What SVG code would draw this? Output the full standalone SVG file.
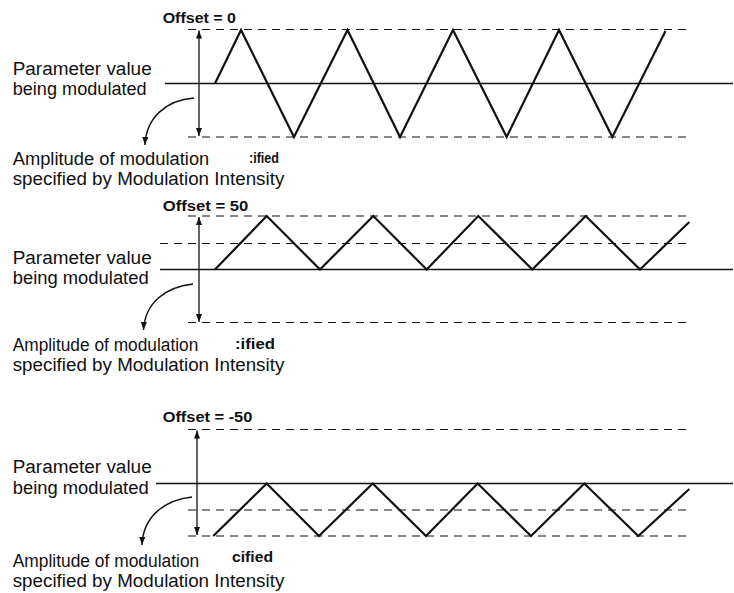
<svg xmlns="http://www.w3.org/2000/svg" width="734" height="593" viewBox="0 0 734 593">
<style>
.bg{fill:#fff}
.lbl{font-family:"Liberation Sans",Arial,sans-serif;font-size:18px;fill:#111}
.off{font-family:"Liberation Sans",Arial,sans-serif;font-size:14px;font-weight:bold;fill:#111}
.dash{stroke:#111;stroke-width:1.2;stroke-dasharray:8,6;fill:none}
.base{stroke:#111;stroke-width:1.3;fill:none}
.wave{stroke:#111;stroke-width:2.2;fill:none;stroke-linejoin:miter}
.amp{stroke:#111;stroke-width:1.3;fill:none;marker-start:url(#ah);marker-end:url(#ah)}
.cur{stroke:#111;stroke-width:1.4;fill:none;marker-end:url(#ah)}
</style>
<defs>
<marker id="ah" markerUnits="userSpaceOnUse" markerWidth="9" markerHeight="7" refX="8" refY="3" orient="auto-start-reverse">
<path d="M0,0 L8,3 L0,6 z" fill="#111"/>
</marker>
</defs>
<rect class="bg" x="0" y="0" width="734" height="593"/>

<g id="panel1">
<text class="off" x="162.7" y="22.7" textLength="73.3" lengthAdjust="spacingAndGlyphs">Offset = 0</text>
<line class="dash" x1="188" y1="29.5" x2="690" y2="29.5"/>
<line class="dash" x1="188" y1="137" x2="690" y2="137"/>
<line class="base" x1="165" y1="83.5" x2="733" y2="83.5"/>
<polyline class="wave" points="215,83.5 241,30 294,137 347.5,30 400,137 453,30 506.7,137 559,30 612.3,137 665.5,31"/>
<text class="lbl" x="12.7" y="75" textLength="139" lengthAdjust="spacingAndGlyphs">Parameter value</text>
<text class="lbl" x="12.7" y="94.5" textLength="134" lengthAdjust="spacingAndGlyphs">being modulated</text>
<text class="lbl" x="12.7" y="164.5" textLength="196.6" lengthAdjust="spacingAndGlyphs">Amplitude of modulation</text>
<text class="off" x="249" y="162.5" textLength="30" lengthAdjust="spacingAndGlyphs">:ified</text>
<text class="lbl" x="12.7" y="184.8" textLength="271.6" lengthAdjust="spacingAndGlyphs">specified by Modulation Intensity</text>
</g>

<g id="panel2">
<text class="off" x="162.7" y="210.7" textLength="85.6" lengthAdjust="spacingAndGlyphs">Offset = 50</text>
<line class="dash" x1="188" y1="216" x2="690" y2="216"/>
<line class="dash" x1="160" y1="243.5" x2="692" y2="243.5"/>
<line class="base" x1="160" y1="269.5" x2="733" y2="269.5"/>
<line class="dash" x1="188" y1="322.5" x2="690" y2="322.5"/>
<polyline class="wave" points="215,269.5 266.7,216 320,269.5 373.3,216 426.7,269.5 478.3,216 532.3,269.5 585.7,216 640,269.5 689.3,222"/>
<text class="lbl" x="12.7" y="264" textLength="139" lengthAdjust="spacingAndGlyphs">Parameter value</text>
<text class="lbl" x="12.7" y="284" textLength="136" lengthAdjust="spacingAndGlyphs">being modulated</text>
<text class="lbl" x="12.7" y="351" textLength="185.6" lengthAdjust="spacingAndGlyphs">Amplitude of modulation</text>
<text class="off" x="235" y="349" textLength="40" lengthAdjust="spacingAndGlyphs">:ified</text>
<text class="lbl" x="12.7" y="371" textLength="271.6" lengthAdjust="spacingAndGlyphs">specified by Modulation Intensity</text>
</g>

<g id="panel3">
<text class="off" x="162.7" y="422.3" textLength="89.6" lengthAdjust="spacingAndGlyphs">Offset = -50</text>
<line class="dash" x1="188" y1="429.5" x2="690" y2="429.5"/>
<line class="base" x1="156" y1="483.5" x2="733" y2="483.5"/>
<line class="dash" x1="188" y1="510" x2="692" y2="510"/>
<line class="dash" x1="188" y1="536" x2="690" y2="536"/>
<polyline class="wave" points="213.3,536 266.7,483.5 319,536 372.7,483.5 426,536 477.7,483.5 531,536 584.3,483.5 638.3,536 689.3,489"/>
<text class="lbl" x="12.7" y="473" textLength="139" lengthAdjust="spacingAndGlyphs">Parameter value</text>
<text class="lbl" x="12.7" y="493.5" textLength="136" lengthAdjust="spacingAndGlyphs">being modulated</text>
<text class="lbl" x="12.7" y="566.5" textLength="186.6" lengthAdjust="spacingAndGlyphs">Amplitude of modulation</text>
<text class="off" x="232" y="562" textLength="41" lengthAdjust="spacingAndGlyphs">cified</text>
<text class="lbl" x="12.7" y="586.5" textLength="271.6" lengthAdjust="spacingAndGlyphs">specified by Modulation Intensity</text>
</g>

<g id="connectors">
<line class="amp" x1="199" y1="30.5" x2="199" y2="136"/>
<path class="cur" d="M194,98 C166,100 146,118 145,145"/>
<line class="amp" x1="199" y1="217" x2="199" y2="322"/>
<path class="cur" d="M193,284 C165,287 145,303 143.5,330"/>
<line class="amp" x1="197" y1="430.5" x2="197" y2="535"/>
<path class="cur" d="M192,497 C164,500 143,517 142,545"/>
</g>
</svg>
